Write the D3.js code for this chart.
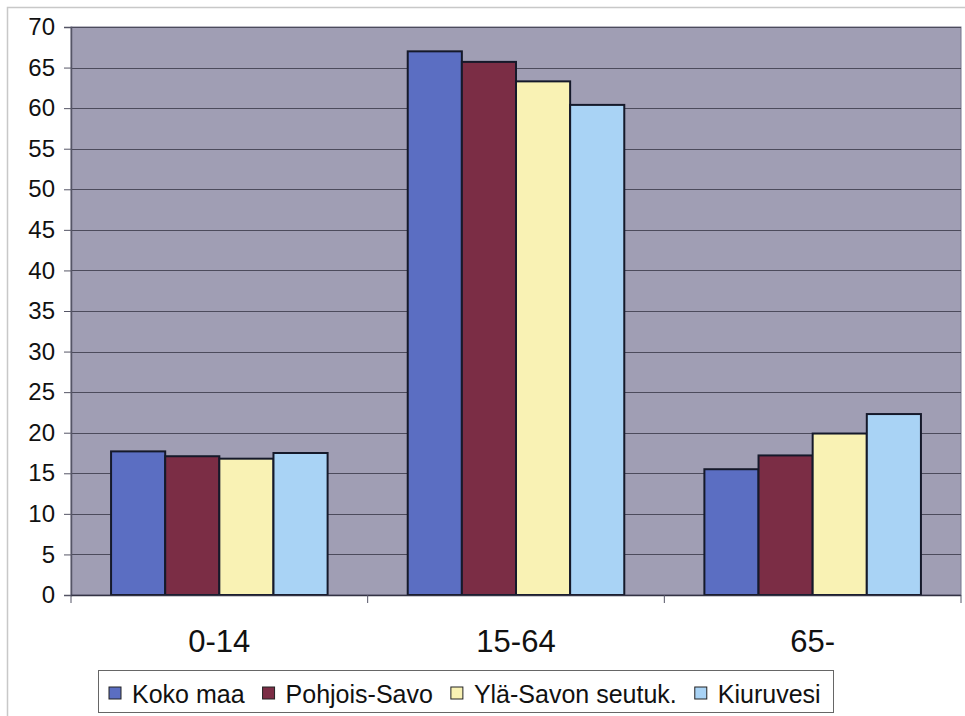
<!DOCTYPE html>
<html>
<head>
<meta charset="utf-8">
<script src="https://cdn.jsdelivr.net/npm/d3@7"></script>
<style>
  html, body { margin: 0; padding: 0; background: #ffffff; }
  svg { display: block; font-family: "Liberation Sans", Arial, sans-serif; }
</style>
</head>
<body>
<svg id="chart" width="965" height="716"></svg>
<script>
// Age groups and population share (%) per area
const ageGroups = ["0-14", "15-64", "65-"];
const seriesNames = ["Koko maa", "Pohjois-Savo", "Ylä-Savon seutuk.", "Kiuruvesi"];
const kokoMaa = [17.7, 67.0, 15.5];
const pohjoisSavo = [17.1, 65.7, 17.2];
const ylaSavon = [16.8, 63.3, 19.9];
const kiuruvesi = [17.5, 60.4, 22.3];
const yTicks = [0, 5, 10, 15, 20, 25, 30, 35, 40, 45, 50, 55, 60, 65, 70];
const seriesColors = ["#5b6ec2", "#7b2d45", "#f9f2b4", "#a9d3f5"];

const seriesValues = [kokoMaa, pohjoisSavo, ylaSavon, kiuruvesi];

const svg = d3.select("#chart");
const plot = { left: 71, right: 961, top: 27, bottom: 595 };

// Outer chart frame
svg.append("rect")
  .attr("x", 7.5).attr("y", 7.5)
  .attr("width", 970).attr("height", 720)
  .attr("fill", "none").attr("stroke", "#c8c8c8").attr("stroke-width", 1.5);

const x0 = d3.scaleBand().domain(ageGroups).range([plot.left, plot.right]).paddingInner(0).paddingOuter(0);
const x1 = d3.scaleBand().domain(seriesNames).range([0, x0.bandwidth()]).paddingInner(0).paddingOuter(0.74);
const y = d3.scaleLinear().domain([0, 70]).range([plot.bottom, plot.top]);

// Plot background
svg.append("rect")
  .attr("x", plot.left).attr("y", plot.top)
  .attr("width", plot.right - plot.left).attr("height", plot.bottom - plot.top)
  .attr("fill", "#a09eb4").attr("stroke", "#76748a").attr("stroke-width", 1);

// Horizontal gridlines
svg.append("g")
  .selectAll("line")
  .data(yTicks.filter(d => d > 0))
  .join("line")
  .attr("x1", plot.left).attr("x2", plot.right)
  .attr("y1", d => Math.round(y(d)) + 0.5).attr("y2", d => Math.round(y(d)) + 0.5)
  .attr("stroke", "#4c4b5c").attr("stroke-width", 1);

// Bars
const groups = svg.append("g")
  .selectAll("g")
  .data(ageGroups)
  .join("g")
  .attr("transform", d => `translate(${x0(d)},0)`);

groups.selectAll("rect")
  .data((g, gi) => seriesNames.map((s, si) => ({ s, si, v: seriesValues[si][gi] })))
  .join("rect")
  .attr("x", d => x1(d.s))
  .attr("y", d => y(d.v))
  .attr("width", x1.bandwidth())
  .attr("height", d => y(0) - y(d.v))
  .attr("fill", d => seriesColors[d.si])
  .attr("stroke", "#15192a")
  .attr("stroke-width", 2);

// Y axis
const yAxis = d3.axisLeft(y).tickValues(yTicks).tickSize(7).tickPadding(9);
const gy = svg.append("g")
  .attr("transform", `translate(${plot.left},0)`)
  .call(yAxis);
gy.select(".domain").attr("stroke", "#555566").attr("stroke-width", 1.5);
gy.selectAll(".tick line").attr("stroke", "#555566");
gy.selectAll(".tick text")
  .attr("font-family", "Liberation Sans, Arial, sans-serif")
  .attr("font-size", 24).attr("fill", "#111");

// X axis with ticks at the category boundaries
const gx = svg.append("g").attr("transform", `translate(0,${plot.bottom})`);
gx.append("line")
  .attr("x1", plot.left).attr("x2", plot.right)
  .attr("y1", 0.5).attr("y2", 0.5)
  .attr("stroke", "#333344").attr("stroke-width", 1.5);
gx.selectAll("line.tk")
  .data(ageGroups.map(d => x0(d)).concat([plot.right]))
  .join("line")
  .attr("class", "tk")
  .attr("x1", d => d).attr("x2", d => d)
  .attr("y1", 0).attr("y2", 8)
  .attr("stroke", "#555566");
gx.selectAll("text")
  .data(ageGroups)
  .join("text")
  .attr("x", d => x0(d) + x0.bandwidth() / 2)
  .attr("y", 57)
  .attr("text-anchor", "middle")
  .attr("font-size", 31)
  .attr("fill", "#111")
  .text(d => d);

// Legend: entries laid out left to right from their measured text widths
const legend = svg.append("g");
legend.append("rect")
  .attr("x", 98.5).attr("y", 670.5)
  .attr("width", 735).attr("height", 42)
  .attr("fill", "#ffffff").attr("stroke", "#666").attr("stroke-width", 1);
const items = legend.selectAll("g.item")
  .data(seriesNames)
  .join("g")
  .attr("class", "item");
items.append("rect")
  .attr("x", 0).attr("y", 687)
  .attr("width", 12).attr("height", 12)
  .attr("fill", (d, i) => seriesColors[i])
  .attr("stroke", "#222").attr("stroke-width", 1);
items.append("text")
  .attr("x", 23).attr("y", 703)
  .attr("font-size", 25)
  .attr("fill", "#111")
  .text(d => d);
let cursor = 109;
items.each(function () {
  const g = d3.select(this);
  g.attr("transform", `translate(${cursor},0)`);
  cursor += 23 + g.select("text").node().getComputedTextLength() + 18;
});
</script>
</body>
</html>
